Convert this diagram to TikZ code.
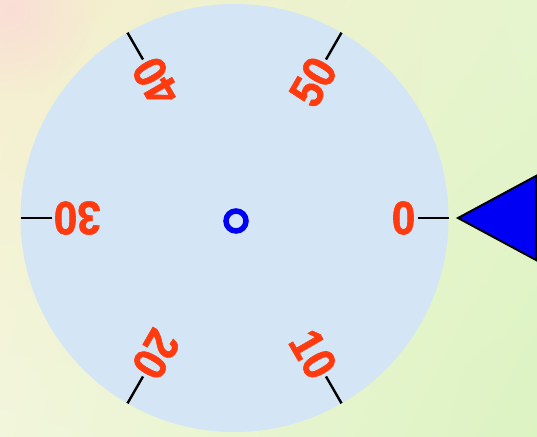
\documentclass[tikz,border=0pt]{standalone}
\usepackage{fontspec}
\setmainfont{Liberation Sans}
\newfontfamily\numfont[FakeBold=1.3]{Liberation Sans Bold}
\usetikzlibrary{fadings,shadings,calc}
\tikzfading[name=pinkfade, inner color=transparent!0, outer color=transparent!100]
\definecolor{bgUL}{RGB}{246,238,206}
\definecolor{bgUR}{RGB}{230,245,206}
\definecolor{bgLL}{RGB}{242,246,220}
\definecolor{bgLR}{RGB}{220,243,194}
\definecolor{bgPink}{RGB}{250,222,214}
\definecolor{dialBlue}{RGB}{212,229,245}
\definecolor{numRed}{RGB}{255,58,14}
\definecolor{ptrBlue}{RGB}{0,0,245}
\tikzset{
  tick/.style={line width=2.4pt, black},
  numlabel/.style={anchor=east, inner sep=0pt, text=numRed, font=\numfont\fontsize{47}{47}\selectfont},
}
\newcommand{\dialnum}[1]{\scalebox{0.9}[1]{#1}}
\begin{document}
\begin{tikzpicture}[x=1pt,y=1pt]
\useasboundingbox (0,0) rectangle (537,436);
% background
\shade[upper left=bgUL, upper right=bgUR, lower left=bgLL, lower right=bgLR] (0,0) rectangle (537,436);
\fill[bgPink, path fading=pinkfade] (10,426) circle (90);
% dial
\coordinate (C) at (234.5,218);
\fill[dialBlue] (C) circle (214);
% ticks and numbers
\foreach \k/\t in {0/0,1/10,2/20,3/30,4/40,5/50}{
  \pgfmathsetmacro{\a}{-60*\k}
  \coordinate (ti\k) at ($(C)+(\a:183)$);
  \coordinate (to\k) at ($(C)+(\a:214)$);
  \draw[tick] (ti\k) -- (to\k);
  \node[numlabel, rotate=\a] (n\k) at ($(C)+(\a:181)$) {\dialnum{\t}};
}
% centre ring
\draw[ptrBlue, line width=5.5pt] (236,215) circle (10);
% pointer
\coordinate (p1) at (458,218);
\coordinate (p2) at (536,260);
\coordinate (p3) at (536,176);
\draw[fill=ptrBlue, line width=2pt, line join=miter] (p1) -- (p2) -- (p3) -- cycle;
\end{tikzpicture}
\end{document}
